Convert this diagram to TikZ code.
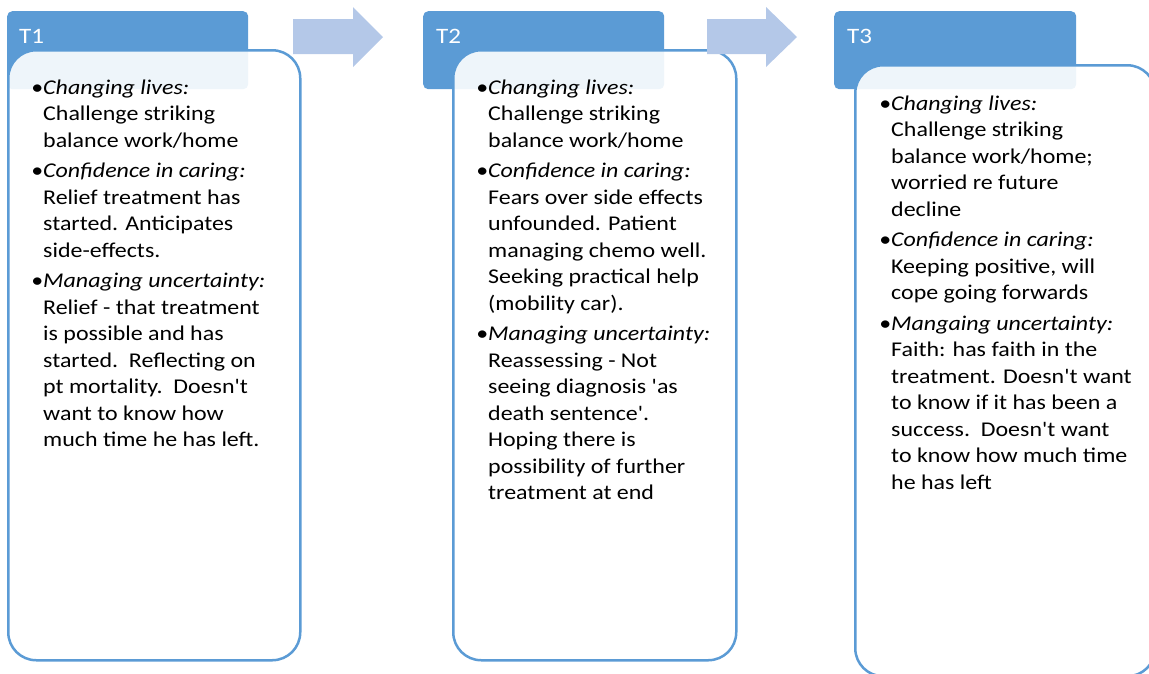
\documentclass[tikz,border=0pt]{standalone}
\usepackage{fontspec}
\setmainfont{Carlito}[Ligatures=TeXOff, FakeStretch=1.14, ItalicFont={Carlito Italic}, ItalicFeatures={FakeStretch=1.14}]
\definecolor{hdrblue}{HTML}{5B9BD5}
\definecolor{arrblue}{HTML}{B4C8E8}
\newcommand{\bitem}[1]{\leavevmode\llap{•}\textit{#1}\\}
\newcommand{\bodytext}[1]{\vtop{\hsize=330pt\parindent=0pt\parskip=4pt\raggedright\fontsize{21}{26.5}\selectfont #1}}
\tikzset{
  hdr/.style={fill=hdrblue, rounded corners=5pt, draw=none, anchor=north west, inner sep=0},
  bodybox/.style={draw=hdrblue, line width=2.5pt, fill=white, fill opacity=0.9, rounded corners=28pt, anchor=north west, inner sep=0},
  arr/.style={fill=arrblue},
  lbl/.style={text=white, font=\fontsize{22}{26}\selectfont, anchor=base west, inner sep=0},
  txt/.style={anchor=base west, inner sep=0}
}
\begin{document}
\begin{tikzpicture}[x=1pt,y=-1pt]
\useasboundingbox (0,0) rectangle (1149,673);
\clip (0,0) rectangle (1149,673);
% headers
\node[hdr, minimum width=241pt, minimum height=78pt] (h1) at (7,11) {};
\node[hdr, minimum width=241pt, minimum height=78pt] (h2) at (423,11) {};
\node[hdr, minimum width=242pt, minimum height=78pt] (h3) at (834,11) {};
\node[lbl] (l1) at (19,43) {T1};
\node[lbl] (l2) at (436,43) {T2};
\node[lbl] (l3) at (847,43) {T3};
% bodies
\node[bodybox, minimum width=292pt, minimum height=610pt] (b1) at (7,49) {};
\node[bodybox, minimum width=283pt, minimum height=610pt] (b2) at (452,49) {};
\node[bodybox, minimum width=300pt, minimum height=611pt] (b3) at (854,64) {};
% arrows
\fill[arr] (293,19) -- (353,19) -- (353,7) -- (383,37) -- (353,67) -- (353,54) -- (293,54) -- cycle;
\fill[arr] (707,19) -- (766,19) -- (766,7) -- (797,37) -- (766,67) -- (766,54) -- (707,54) -- cycle;
% texts
\node[txt] (t1) at (43,94) {\bodytext{%
\bitem{Changing lives:}Challenge striking\\balance work/home\par
\bitem{Confidence in caring:}Relief treatment has\\started. Anticipates\\side-effects.\par
\bitem{Managing uncertainty:}Relief - that treatment\\is possible and has\\started.~~Reflecting on\\pt mortality.~~Doesn't\\want to know how\\much time he has left.}};
\node[txt] (t2) at (488,94) {\bodytext{%
\bitem{Changing lives:}Challenge striking\\balance work/home\par
\bitem{Confidence in caring:}Fears over side effects\\unfounded. Patient\\managing chemo well.\\Seeking practical help\\(mobility car).\par
\bitem{Managing uncertainty:}Reassessing - Not\\seeing diagnosis 'as\\death sentence'.\\Hoping there is\\possibility of further\\treatment at end}};
\node[txt] (t3) at (891,110) {\bodytext{%
\bitem{Changing lives:}Challenge striking\\balance work/home;\\worried re future\\decline\par
\bitem{Confidence in caring:}Keeping positive, will\\cope going forwards\par
\bitem{Mangaing uncertainty:}Faith: has faith in the\\treatment. Doesn't want\\to know if it has been a\\success.~~Doesn't want\\to know how much time\\he has left}};
\end{tikzpicture}
\end{document}
